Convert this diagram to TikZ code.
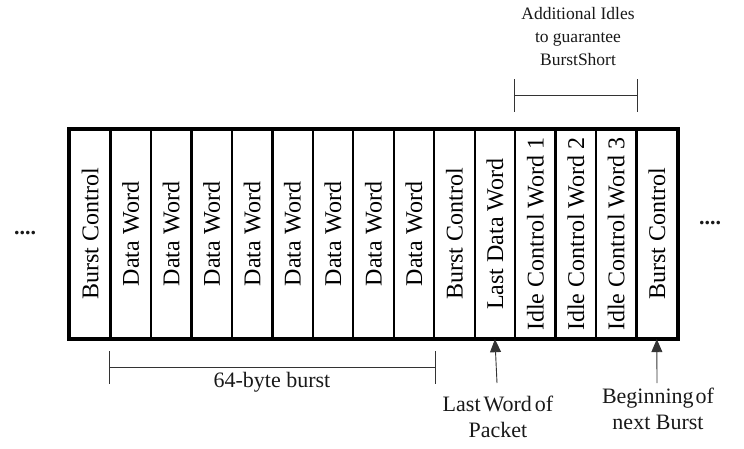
\documentclass[tikz,border=0pt]{standalone}
\usepackage{fontspec}
\setmainfont{Liberation Serif}
\usetikzlibrary{arrows.meta}
\begin{document}
\begin{tikzpicture}[x=1pt,y=-1pt,
  cell/.style={draw=black,line width=2.4pt,minimum width=40.47pt,minimum height=208pt,inner sep=0pt,
    font=\fontsize{24}{28}\selectfont},
  bracket/.style={draw=black!80,line width=0.8pt},
  arr/.style={draw=black!80,line width=0.9pt,-{Triangle[length=13pt,width=11pt]}},
  lab/.style={align=center,inner sep=0pt,text=black!90}]
\useasboundingbox (0,0) rectangle (744,448);
\foreach \t [count=\i] in {Burst Control,Data Word,Data Word,Data Word,Data Word,Data Word,Data Word,Data Word,Data Word,Burst Control,Last Data Word,Idle Control Word 1,Idle Control Word 2,Idle Control Word 3,Burst Control}{
  \node[cell] (c\i) at ({70+40.47*(\i-0.5)},234) {\rotatebox{90}{\t}};
}
\draw[line width=3pt] (c1.north west) rectangle (c15.south east);
% top bracket
\draw[bracket] ([yshift=17pt]c12.north west) -- ([yshift=50pt]c12.north west);
\draw[bracket] ([yshift=17pt]c14.north east) -- ([yshift=50pt]c14.north east);
\draw[bracket] ([yshift=33pt]c12.north west) -- ([yshift=33pt]c14.north east);
\node[lab,font=\fontsize{17.5}{23}\selectfont] (idl) at (578,37) {Additional Idles\\to guarantee\\BurstShort};
% bottom bracket
\draw[bracket] ([yshift=-12pt]c2.south west) -- ([yshift=-45pt]c2.south west);
\draw[bracket] ([yshift=-12pt]c9.south east) -- ([yshift=-45pt]c9.south east);
\draw[bracket] ([yshift=-28pt]c2.south west) -- ([yshift=-28pt]c9.south east);
\node[lab,font=\fontsize{22}{26}\selectfont] (burst) at (272,382) {64-byte burst};
% arrows
\coordinate (a1) at (497,383);
\coordinate (a2) at (657,383);
\draw[arr] (a1) -- (c11.south);
\draw[arr] (a2) -- (c15.south);
\node[lab,font=\fontsize{22}{26}\selectfont] (lw) at (498,417) {Last\hspace{3pt}Word\hspace{3pt}of\\Packet};
\node[lab,font=\fontsize{22}{26}\selectfont] (bn) at (658,409) {Beginning\hspace{2pt}of\\next Burst};
% dots
\node[lab,font=\fontsize{22}{26}\bfseries] (dl) at (25,233) {....};
\node[lab,font=\fontsize{22}{26}\bfseries] (dr) at (710,223) {....};
\end{tikzpicture}
\end{document}
